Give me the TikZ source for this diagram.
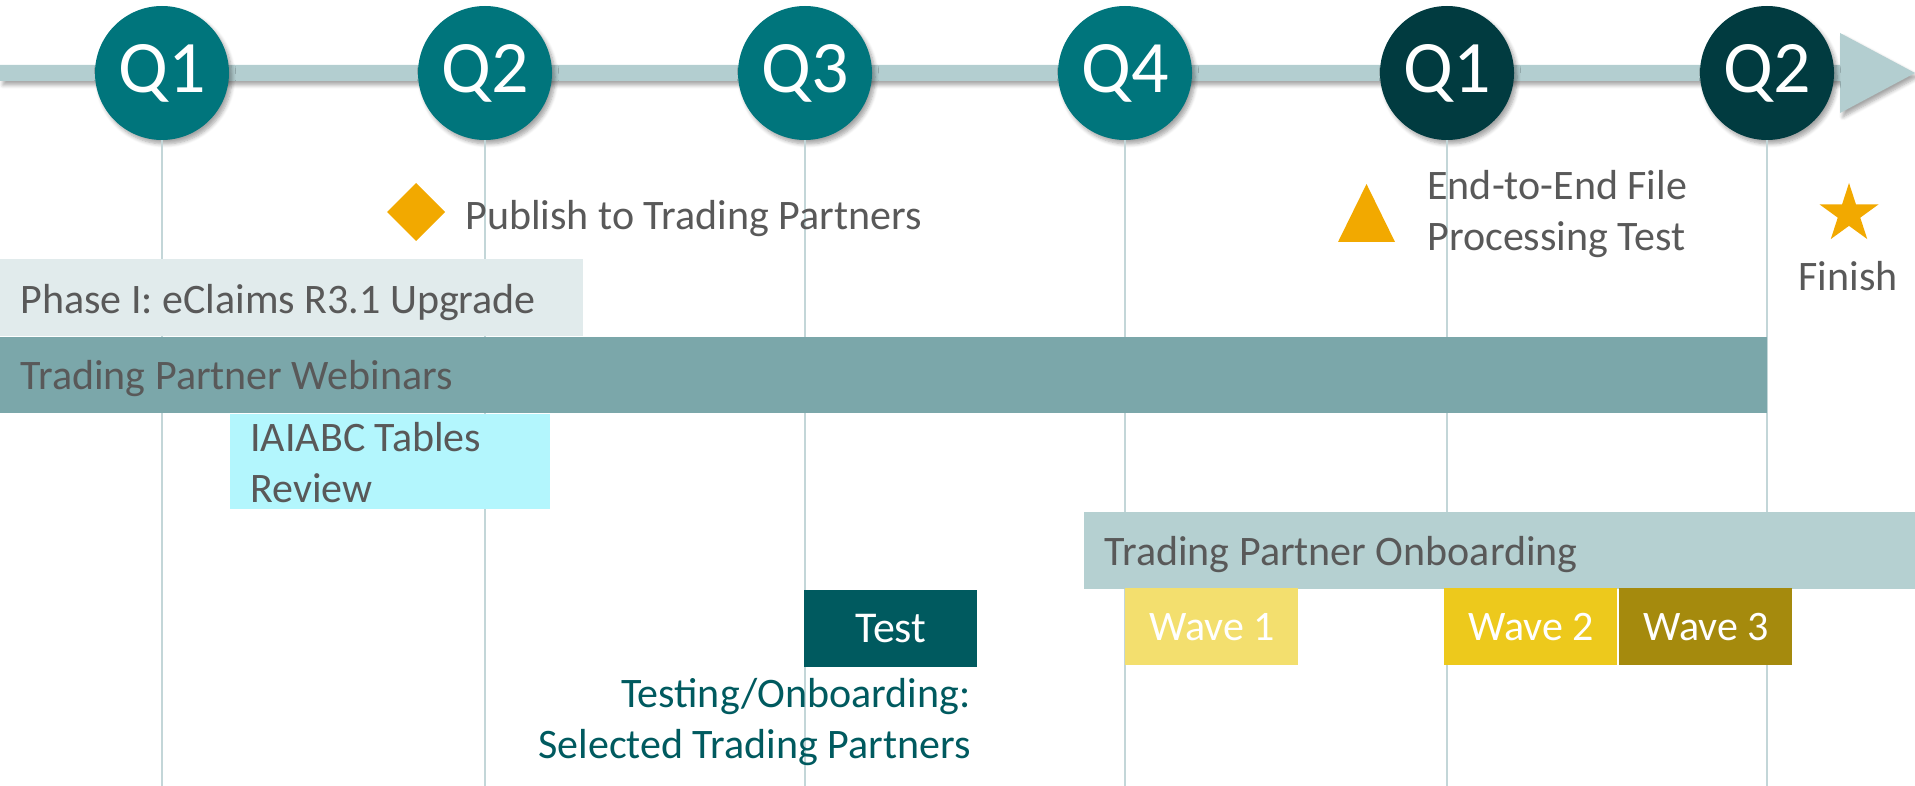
\documentclass[tikz,border=0pt]{standalone}
\usepackage{fontspec}
\setmainfont{Carlito}
\usetikzlibrary{shapes.geometric,shadows,shadows.blur}
\definecolor{axisc}{HTML}{B3CED0}
\definecolor{qteal}{HTML}{00757C}
\definecolor{qdark}{HTML}{013B40}
\definecolor{vlc}{HTML}{C3D6D8}
\definecolor{gold}{HTML}{F2A900}
\definecolor{txt}{HTML}{595959}
\definecolor{phasec}{HTML}{E1EBEC}
\definecolor{webinc}{HTML}{7BA7AA}
\definecolor{iaic}{HTML}{B3F6FD}
\definecolor{onbc}{HTML}{B5D0D1}
\definecolor{testc}{HTML}{005A5F}
\definecolor{wa}{HTML}{F3DF6E}
\definecolor{wb}{HTML}{EDC91C}
\definecolor{wc}{HTML}{A58A0D}
\begin{document}
\begin{tikzpicture}[x=0.5pt,y=-0.5pt,
  softshadow/.style={blur shadow={shadow xshift=1.5pt,shadow yshift=-2pt,shadow blur steps=6,shadow opacity=35}},
  qnode/.style={circle,minimum size=67pt,inner sep=0pt,text=white,font=\fontsize{37}{40}\selectfont,softshadow},
  vl/.style={draw=vlc,line width=1pt},
  lbl/.style={inner sep=0pt,text=txt,font=\fontsize{21}{25}\selectfont},
  bar/.style={rectangle,inner sep=0pt,draw=none,anchor=north west},
  wavebox/.style={bar,minimum width=86.5pt,minimum height=38.5pt,text=white,font=\fontsize{21}{25}\selectfont}]
\useasboundingbox (0,0) rectangle (1915,786);
% axis with arrow
\coordinate (a0) at (0,73);
\coordinate (a1) at (1915,73);
\fill[axisc,softshadow] (0,65) -- (1840,65) -- (1840,33) -- (a1) -- (1840,113) -- (1840,81) -- (0,81) -- cycle;
% quarters
\foreach \i/\x/\q/\c in {1/162/Q1/qteal,2/485/Q2/qteal,3/805/Q3/qteal,4/1125/Q4/qteal,5/1447/Q1/qdark,6/1767/Q2/qdark}{
  \coordinate (e\i) at (\x,786);
  \node[qnode,fill=\c] (c\i) at (\x,73) {\q};
  \draw[vl] (c\i.south) -- (e\i);
}
% milestones
\fill[gold] (387,212) -- (416,183) -- (445,212) -- (416,241) -- cycle;
\node[lbl,anchor=base west] (pub) at (465,229) {Publish to Trading Partners};
\fill[gold] (1338,242) -- (1366.5,184) -- (1395,242) -- cycle;
\node[lbl,anchor=base west] (e2e1) at (1427,199) {End-to-End File};
\node[lbl,anchor=base west] (e2e2) at (1427,250) {Processing Test};
\node[star,star points=5,star point ratio=2.618,minimum size=31pt,inner sep=0pt,fill=gold] (star) at (1849,214) {};
\node[lbl,anchor=base] (fin) at (1848,290) {Finish};
% bars
\node[bar,fill=phasec,minimum width=291.5pt,minimum height=38.5pt] (phase) at (0,259) {};
\node[lbl,anchor=base west] (phaseT) at (20,313) {Phase I: eClaims R3.1 Upgrade};
\node[bar,fill=webinc,minimum width=883.5pt,minimum height=38pt] (webin) at (0,337) {};
\node[lbl,anchor=base west] (webinT) at (20,389) {Trading Partner Webinars};
\node[bar,fill=iaic,minimum width=160pt,minimum height=47.5pt] (iai) at (230,414) {};
\node[lbl,anchor=base west] (iaiT1) at (250,451) {IAIABC Tables};
\node[lbl,anchor=base west] (iaiT2) at (250,502) {Review};
\node[bar,fill=onbc,minimum width=415.5pt,minimum height=38.5pt] (onb) at (1084,512) {};
\node[lbl,anchor=base west] (onbT) at (1104,565) {Trading Partner Onboarding};
\node[wavebox,fill=testc,font=\fontsize{22}{26}\selectfont] (test) at (804,590) {Test};
\node[wavebox,fill=wa] (w1) at (1125,588) {Wave 1};
\node[wavebox,fill=wb] (w2) at (1444,588) {Wave 2};
\node[wavebox,fill=wc] (w3) at (1619,588) {Wave 3};
\node[lbl,text=testc,anchor=base east] (sel1) at (971,707) {Testing/Onboarding:};
\node[lbl,text=testc,anchor=base east] (sel2) at (971,758) {Selected Trading Partners};
\end{tikzpicture}
\end{document}
